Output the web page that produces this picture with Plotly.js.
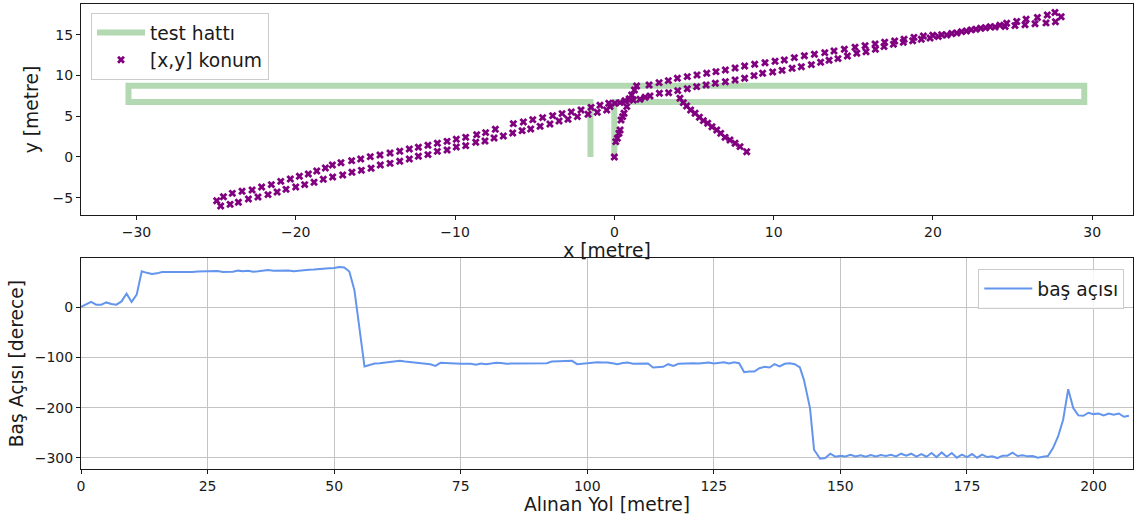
<!DOCTYPE html>
<html>
<head>
<meta charset="utf-8">
<script src="https://cdn.plot.ly/plotly-3.0.1.min.js"></script>
<style>
  html, body { margin: 0; padding: 0; background: #ffffff; }
  #chart { width: 1136px; height: 517px; }
</style>
</head>
<body>
<div id="chart"></div>
<script>
// Reference test track (corridor outline with two entry stems)
const trackX = [-1.5, -1.5, -30.5, -30.5, 29.5, 29.5, 0, 0];
const trackY = [0, 6.75, 6.75, 8.75, 8.75, 6.75, 6.75, 0];

// Measured [x, y] positions, grouped by leg of the drive
const startX = [0.0, 0.09, 0.19, 0.29, 0.36, 0.42, 0.52, 0.61, 0.78, 0.94, 1.09, 1.26, 1.40];
const startY = [0.0, 1.88, 2.29, 2.90, 3.31, 4.54, 4.95, 5.36, 6.18, 7.00, 7.61, 8.22, 8.71];

const upperRightX = [2.18, 2.81, 3.39, 3.96, 4.58, 5.19, 5.80, 6.38, 6.97, 7.58, 8.18, 8.81, 9.46, 10.09, 10.67,
  11.30, 11.93, 12.56, 13.21, 13.79, 14.44, 15.11, 15.74, 16.37, 16.97, 17.60, 18.19, 18.81, 19.40, 19.99,
  20.55, 21.18, 21.80, 22.40, 23.00, 23.60, 24.20, 24.63, 25.26, 25.85, 26.56, 27.18, 27.66];
const upperRightY = [8.83, 9.12, 9.37, 9.65, 9.86, 10.06, 10.27, 10.47, 10.68, 10.92, 11.17, 11.37, 11.57, 11.74, 11.90,
  12.19, 12.43, 12.60, 12.80, 13.01, 13.21, 13.46, 13.66, 13.87, 14.07, 14.23, 14.44, 14.68, 14.85, 14.93,
  15.00, 15.15, 15.38, 15.60, 15.80, 15.98, 16.17, 16.40, 16.62, 16.90, 17.12, 17.42, 17.72];

const lowerRightX = [2.24, 2.83, 3.41, 3.98, 4.58, 5.17, 5.76, 6.34, 6.97, 7.58, 8.18, 8.77, 9.31, 9.94, 10.53,
  11.16, 11.74, 12.37, 12.95, 13.48, 14.04, 14.63, 15.22, 15.80, 16.39, 16.93, 17.52, 18.14, 18.73, 19.27,
  19.82, 20.34, 20.87, 21.50, 22.10, 22.70, 23.30, 23.90, 24.53, 25.15, 25.78, 26.41, 27.10, 27.69, 28.05];
const lowerRightY = [7.48, 7.81, 7.89, 8.14, 8.38, 8.63, 8.83, 9.04, 9.24, 9.45, 9.65, 9.98, 10.27, 10.43, 10.63,
  10.88, 11.08, 11.33, 11.62, 11.86, 12.07, 12.39, 12.72, 12.92, 13.21, 13.54, 13.82, 14.07, 14.27, 14.44,
  14.60, 14.77, 14.97, 15.22, 15.45, 15.68, 15.86, 15.95, 16.00, 16.12, 16.22, 16.35, 16.45, 16.60, 17.20];

const upperLeftX = [-24.96, -24.54, -23.98, -23.37, -22.74, -22.14, -21.53, -20.94, -20.34, -19.77, -19.21,
  -18.68, -18.14, -17.70, -17.16, -16.49, -15.92, -15.32, -14.71, -14.08, -13.47, -12.87, -12.30, -11.70,
  -11.11, -10.50, -9.92, -9.33, -8.64, -8.08, -7.47, -6.34, -5.71, -5.12, -4.50, -3.87, -3.28, -2.70,
  -2.09, -1.46, -0.90, -0.35];
const upperLeftY = [-5.36, -4.87, -4.46, -4.21, -4.05, -3.68, -3.39, -2.99, -2.70, -2.37, -2.09,
  -1.72, -1.35, -0.98, -0.70, -0.45, -0.25, 0.04, 0.25, 0.49, 0.70, 0.98, 1.19, 1.43,
  1.68, 1.92, 2.17, 2.41, 2.74, 2.99, 3.40, 4.09, 4.30, 4.58, 4.83, 5.07, 5.32, 5.52,
  5.77, 6.09, 6.34, 6.59];

const lowerLeftX = [-24.71, -24.12, -23.60, -22.97, -22.37, -21.74, -21.17, -20.61, -20.00, -19.44, -18.85,
  -18.27, -17.68, -17.05, -16.47, -15.88, -15.27, -14.69, -14.08, -13.47, -12.87, -12.30, -11.70, -11.11,
  -10.50, -9.92, -9.33, -8.70, -8.12, -7.55, -6.97, -6.38, -5.79, -5.25, -4.66, -4.04, -3.47, -2.91,
  -2.32, -1.65, -1.07, -0.48];
const lowerLeftY = [-6.01, -5.81, -5.56, -5.15, -4.91, -4.62, -4.29, -3.97, -3.68, -3.39, -3.11,
  -2.74, -2.45, -2.21, -1.88, -1.64, -1.39, -0.98, -0.78, -0.53, -0.25, 0.08, 0.29, 0.69,
  0.86, 1.23, 1.39, 1.80, 1.96, 2.33, 2.58, 2.94, 3.23, 3.44, 3.76, 4.05, 4.42, 4.62,
  4.95, 5.24, 5.48, 5.77];

const centerX = [-0.27, 0.04, 0.36, 0.67, 0.94, 1.19, 1.61, 1.93];
const centerY = [6.18, 6.59, 6.67, 6.91, 7.16, 6.99, 7.08, 7.32];

const exitX = [4.12, 4.33, 4.54, 4.79, 5.07, 5.34, 5.59, 5.86, 6.13, 6.43, 6.68, 6.95, 7.26, 7.58, 7.89, 8.31];
const exitY = [7.20, 6.67, 6.26, 5.77, 5.36, 4.87, 4.46, 4.13, 3.72, 3.31, 2.90, 2.41, 2.09, 1.68, 1.27, 0.65];

// Heading angle against distance travelled
const distance = [0, 1, 2, 3, 4, 5, 6, 7, 8, 9, 10, 11, 12, 13, 14, 15, 16, 17, 18, 19,
  20, 21, 22, 23, 24, 25, 26, 27, 28, 29, 30, 31, 32, 33, 34, 35, 36, 37, 38, 39,
  40, 41, 42, 43, 44, 45, 46, 47, 48, 49, 50, 51, 52, 53, 54, 56, 57, 58, 59,
  60, 61, 62, 63, 64, 65, 66, 67, 68, 69, 70, 71, 72, 73, 74, 75, 76, 77, 78, 79,
  80, 81, 82, 83, 84, 85, 86, 87, 88, 89, 90, 91, 92, 93, 94, 95, 96, 97, 98, 99,
  100, 101, 102, 103, 104, 105, 106, 107, 108, 109, 110, 111, 112, 113, 114, 115, 116, 117, 118, 119,
  120, 121, 122, 123, 124, 125, 126, 127, 128, 129, 130, 131, 132, 133, 134, 135, 136, 137, 138, 139,
  140, 141, 142, 142.8, 144, 144.8, 146, 147, 148, 149, 150, 151, 152, 153, 154, 155, 156, 157, 158, 159,
  160, 161, 162, 163, 164, 165, 166, 167, 168, 169, 170, 171, 172, 173, 174, 175, 176, 177, 178, 179,
  180, 181, 182, 183, 184, 185, 186, 187, 188, 189, 190, 191, 192, 193, 194, 195, 196, 197, 198, 199,
  200, 201, 202, 203, 204, 205, 206, 207];
const heading = [1, 5.6, 11, 5.6, 5.6, 10, 7, 5.6, 12, 27.5, 11, 25.6, 72, 69, 66.7, 68, 70.7, 70.5, 70.5, 70,
  69, 70, 70.5, 71.5, 72, 73, 72, 72.5, 70.7, 70.5, 71, 73.4, 72, 73, 71, 72, 73, 74.7, 73, 73.5,
  72.5, 73.5, 72, 73.5, 74.5, 75, 75.5, 76.7, 77, 78, 78.7, 80.7, 79.5, 71.5, 35, -117.9, -115, -112, -111.2,
  -110, -109.2, -108, -106.6, -108, -109.2, -109.5, -110.5, -111.5, -113.2, -116.5, -110.5, -111, -111.9, -112, -112.5, -112.5, -112.5, -114.5, -111.9,
  -113.2, -112, -110.5, -111, -112.5, -112, -111.9, -112, -112.5, -112, -111.9, -111.5, -111.2, -108, -108, -107.9, -107.5, -106.6, -113.2, -112,
  -111.2, -110, -109.2, -110, -109.9, -111.5, -113.2, -111, -109.9, -112.5, -112, -112, -111.9, -119.8, -119, -118.5, -113.2, -116.5, -112.5, -112,
  -111.2, -111.5, -111.9, -111, -109.9, -111.9, -110.5, -109.2, -111.9, -109.2, -111.2, -129.1, -128, -127.8, -121.2, -118.5, -119.8, -113.2, -117.8, -112.5,
  -111.2, -113.2, -119.8, -144.4, -200.8, -283.8, -301.8, -300.5, -291.8, -297.8, -295.8, -297.1, -293.8, -297.1, -295.1, -297.8, -294.5, -297.1, -294.5, -296.5,
  -293.8, -297.1, -291.8, -295.8, -291.8, -297.8, -292.5, -297.8, -290.5, -298.5, -289.2, -297.8, -290.5, -299.8, -293.8, -298.5, -292.5, -299.8, -293.8, -298.5,
  -297.1, -300.5, -295.8, -295.8, -289.8, -296.5, -295.1, -297.1, -296.5, -299.8, -297.8, -296.5, -280.5, -257.3, -224.1, -163, -200.8, -215.4, -216.1, -210.1,
  -212.8, -211.5, -215.4, -211.5, -214.1, -211.5, -218.1, -216.1];

const posX = [].concat(startX, upperRightX, lowerRightX, upperLeftX, lowerLeftX, centerX, exitX);
const posY = [].concat(startY, upperRightY, lowerRightY, upperLeftY, lowerLeftY, centerY, exitY);

const FONT = 'DejaVu Sans, sans-serif';
const INK = '#1a1a1a';
const TITLE_FONT = { family: FONT, size: 18.7, color: INK };
const LEGEND_FONT = { family: FONT, size: 18.7, color: INK };

const traces = [
  {
    x: trackX, y: trackY, xaxis: 'x', yaxis: 'y',
    mode: 'lines', name: 'test hattı',
    line: { color: 'rgba(0,128,0,0.3)', width: 6 },
    hoverinfo: 'skip'
  },
  {
    x: posX, y: posY, xaxis: 'x', yaxis: 'y',
    mode: 'markers', name: '[x,y] konum',
    marker: { symbol: 'x', size: 7, color: '#800080', line: { width: 0 } }
  },
  {
    x: distance, y: heading, xaxis: 'x2', yaxis: 'y2',
    mode: 'lines', name: 'baş açısı', legend: 'legend2',
    line: { color: '#6495ED', width: 2 }
  }
];

const axisBase = {
  showline: true, mirror: true, linecolor: INK, linewidth: 1,
  ticks: 'outside', ticklen: 4, tickwidth: 1, tickcolor: INK,
  zeroline: false, automargin: false,
  tickfont: { family: FONT, size: 14, color: INK }
};

const legendBase = {
  bgcolor: 'rgba(255,255,255,0.85)', bordercolor: '#cccccc', borderwidth: 1,
  font: LEGEND_FONT, itemwidth: 48
};

const layout = {
  width: 1136, height: 517,
  margin: { l: 81, r: 3, t: 4, b: 48 },
  paper_bgcolor: '#ffffff', plot_bgcolor: '#ffffff',
  font: { family: FONT, color: INK },
  showlegend: true,
  xaxis: Object.assign({}, axisBase, {
    domain: [0, 1], anchor: 'y', range: [-33.48, 32.56],
    tickvals: [-30, -20, -10, 0, 10, 20, 30], showgrid: false,
    title: { text: 'x [metre]', font: TITLE_FONT, standoff: 3 }
  }),
  yaxis: Object.assign({}, axisBase, {
    domain: [0.5462, 1], anchor: 'x', range: [-7.12, 18.77],
    tickvals: [-5, 0, 5, 10, 15], showgrid: false,
    title: { text: 'y [metre]', font: TITLE_FONT, standoff: 9 }
  }),
  xaxis2: Object.assign({}, axisBase, {
    domain: [0, 1], anchor: 'y2', range: [0, 207.8],
    tickvals: [0, 25, 50, 75, 100, 125, 150, 175, 200],
    showgrid: true, gridcolor: '#c4c4c4', gridwidth: 1,
    title: { text: 'Alınan Yol [metre]', font: TITLE_FONT, standoff: 4 }
  }),
  yaxis2: Object.assign({}, axisBase, {
    domain: [0, 0.4531], anchor: 'x2', range: [-322.3, 98],
    tickvals: [-300, -200, -100, 0],
    showgrid: true, gridcolor: '#c4c4c4', gridwidth: 1,
    title: { text: 'Baş Açısı [derece]', font: TITLE_FONT, standoff: 6 }
  }),
  legend: Object.assign({}, legendBase, {
    x: 0.0095, y: 0.981, xanchor: 'left', yanchor: 'top'
  }),
  legend2: Object.assign({}, legendBase, {
    x: 0.9917, y: 0.4302, xanchor: 'right', yanchor: 'top'
  })
};

Plotly.newPlot('chart', traces, layout, { displayModeBar: false, staticPlot: true });
</script>
</body>
</html>
